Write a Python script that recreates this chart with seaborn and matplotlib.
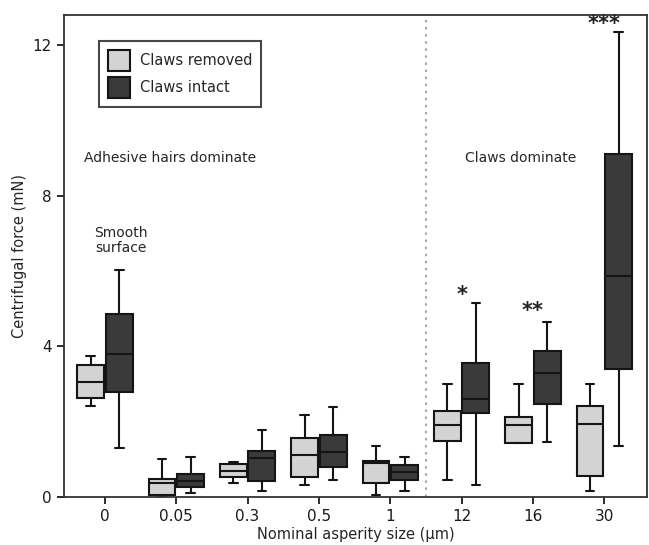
import numpy as np
import pandas as pd
import seaborn as sns
import matplotlib.pyplot as plt

sizes = ["0", "0.05", "0.3", "0.5", "1", "12", "16", "30"]
conditions = ["Claws removed", "Claws intact"]

# five-number summaries (min, q1, median, q3, max)
removed_lo = [2.41, 0.00, 0.38, 0.33, 0.05, 0.45, 1.44, 0.15]
removed_q1 = [2.64, 0.05, 0.54, 0.54, 0.38, 1.48, 1.44, 0.56]
removed_med = [3.05, 0.36, 0.70, 1.11, 0.90, 1.90, 1.90, 1.93]
removed_q3 = [3.51, 0.49, 0.88, 1.56, 0.95, 2.29, 2.13, 2.41]
removed_hi = [3.74, 1.02, 0.92, 2.18, 1.35, 3.00, 3.00, 3.00]

intact_lo = [1.30, 0.10, 0.17, 0.45, 0.15, 0.33, 1.47, 1.35]
intact_q1 = [2.80, 0.27, 0.42, 0.79, 0.45, 2.22, 2.48, 3.40]
intact_med = [3.79, 0.42, 1.04, 1.19, 0.66, 2.59, 3.28, 5.86]
intact_q3 = [4.87, 0.61, 1.22, 1.65, 0.84, 3.56, 3.88, 9.10]
intact_hi = [6.02, 1.07, 1.79, 2.39, 1.07, 5.15, 4.64, 12.33]

stars = ["*", "**", "***"]
star_sizes = ["12", "16", "30"]
star_y = [5.36, 4.95, 12.55]

rows = []
summ = {
    "Claws removed": [removed_lo, removed_q1, removed_med, removed_q3, removed_hi],
    "Claws intact": [intact_lo, intact_q1, intact_med, intact_q3, intact_hi],
}
for cond in conditions:
    for i, s in enumerate(sizes):
        for stat in summ[cond]:
            rows.append({"size": s, "force": stat[i], "cond": cond})
df = pd.DataFrame(rows)

sns.set_style("ticks")
plt.rcParams["font.family"] = ["DejaVu Sans"]

fig = plt.figure(figsize=(6.49, 5.45), dpi=100)
ax = fig.add_axes([0.098, 0.088, 0.899, 0.885])

# whis=(0,100) so whiskers run to min/max of each summary
sns.boxplot(data=df, x="size", y="force", hue="cond", order=sizes,
            hue_order=conditions, palette={"Claws removed": "#d3d3d3", "Claws intact": "#3a3a3a"},
            whis=(0, 100), width=0.8, gap=0.06, linecolor="#151515", linewidth=1.5,
            showfliers=False, ax=ax)

# narrower whisker caps, like the original figure
for ln in ax.lines:
    xd = np.asarray(ln.get_xdata(), dtype=float)
    yd = np.asarray(ln.get_ydata(), dtype=float)
    if len(xd) == 2 and yd[0] == yd[1] and 0.1 < abs(xd[1] - xd[0]) < 0.25:
        c = xd.mean()
        ln.set_xdata([c - 0.06, c + 0.06])

ax.axvline(4.5, color="#a8a8a8", linestyle=(0, (1.2, 2.2)), linewidth=1.5, zorder=0)

ax.set_xlim(-0.58, 7.6)
ax.set_ylim(0, 12.8)
ax.set_yticks([0, 4, 8, 12])
ax.tick_params(labelsize=11, length=5, width=1.3, colors="#1a1a1a")
for sp in ax.spines.values():
    sp.set_color("#333333")
    sp.set_linewidth(1.3)

ax.set_xlabel("Nominal asperity size (\u03bcm)", fontsize=10.5, labelpad=2)
ax.set_ylabel("Centrifugal force (mN)", fontsize=10.5)

ax.text(-0.30, 9.0, "Adhesive hairs dominate", fontsize=10, va="center")
ax.text(5.05, 9.0, "Claws dominate", fontsize=10, va="center")
ax.text(0.22, 6.82, "Smooth\nsurface", fontsize=10, ha="center", va="center",
        linespacing=1.1)
for s, y, st in zip(star_sizes, star_y, stars):
    ax.text(sizes.index(s), y, st, fontsize=15, fontweight="bold", ha="center",
            va="center", color="#222222")

handles, labels = ax.get_legend_handles_labels()
leg = ax.legend(handles, labels, loc="upper left", bbox_to_anchor=(0.061, 0.945),
                borderaxespad=0, fontsize=10.5, frameon=True, fancybox=False,
                handlelength=1.5, handleheight=1.8, borderpad=0.6, labelspacing=0.45,
                handletextpad=0.7)
leg.get_frame().set_edgecolor("#1a1a1a")
leg.get_frame().set_linewidth(1.5)

fig.savefig("out.png", dpi=100)
